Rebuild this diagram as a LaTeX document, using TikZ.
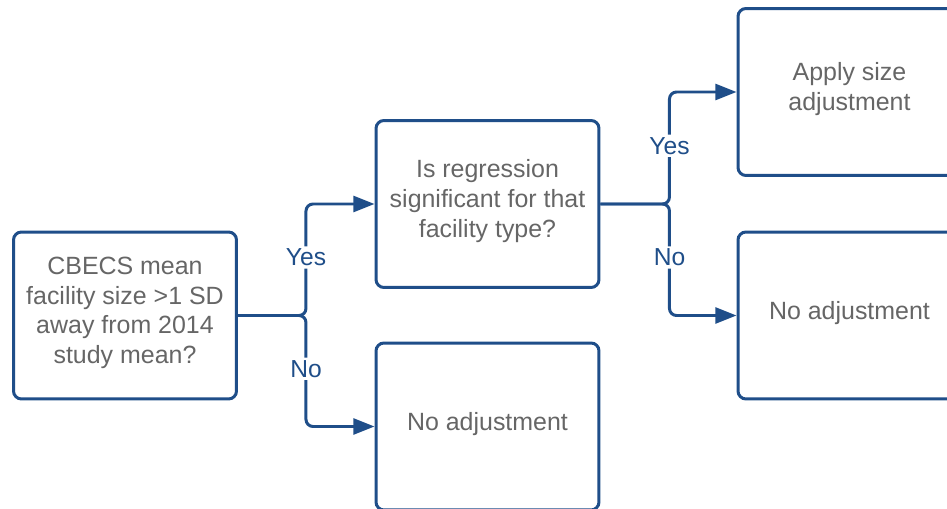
\documentclass[tikz,border=0pt]{standalone}
\usepackage{fontspec}
\setmainfont{Liberation Sans}
\usetikzlibrary{positioning, arrows.meta, calc}

\definecolor{lineBlue}{HTML}{1F4E89}
\definecolor{textGray}{HTML}{666666}

\begin{document}
\begin{tikzpicture}[
    x=0.02cm, y=-0.02cm,
    >={Triangle[length=12pt, width=9pt]},
    % Node Styles
    box/.style={rectangle, draw=lineBlue, line width=1.7pt, rounded corners=4.5pt, fill=white,
        minimum width=4.46cm, minimum height=3.34cm, align=center, text=textGray,
        text depth=6pt, font=\fontsize{14.2}{17}\selectfont},
    conn/.style={->, draw=lineBlue, line width=1.7pt, rounded corners=4pt},
    lbl/.style={fill=white, text=lineBlue, inner sep=1.5pt, font=\fontsize{14}{16}\selectfont}
]
\useasboundingbox (0,0) rectangle (947,509);

% =========================================================
% FIRST DECISION
% =========================================================
\node[box] (cbecs) at (125, 315.5) {CBECS mean\\facility size >1 SD\\away from 2014\\study mean?};

\node[box] (regr) at (487.5, 204) {Is regression\\significant for that\\facility type?};
\node[box] (noAdjA) at (487.5, 426.5) {No adjustment};

\draw[conn] (cbecs.east) -- ++(68,0) |- node[pos=0.26, lbl] {Yes} (regr.west);
\draw[conn] (cbecs.east) -- ++(68,0) |- node[pos=0.24, lbl] {No} (noAdjA.west);

% =========================================================
% SECOND DECISION
% =========================================================
\node[box] (apply) at (849.5, 92) {Apply size\\adjustment};
\node[box] (noAdjB) at (849.5, 315.5) {No adjustment};

\draw[conn] (regr.east) -- ++(69,0) |- node[pos=0.26, lbl] {Yes} (apply.west);
\draw[conn] (regr.east) -- ++(69,0) |- node[pos=0.24, lbl] {No} (noAdjB.west);

\end{tikzpicture}
\end{document}
